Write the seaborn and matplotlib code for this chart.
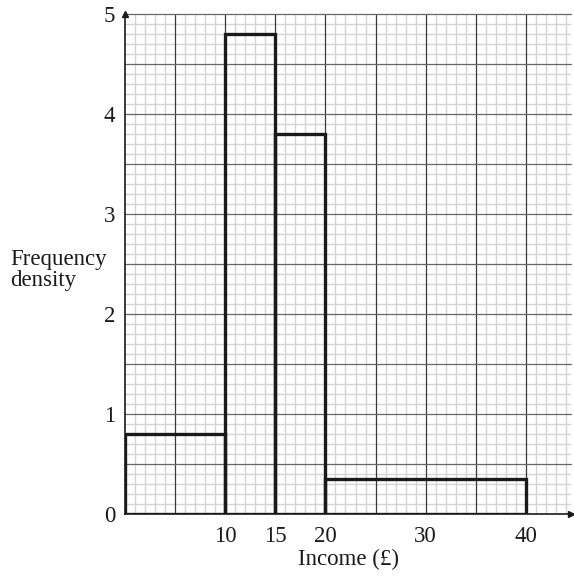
import numpy as np
import pandas as pd
import matplotlib
matplotlib.use("Agg")
import matplotlib.pyplot as plt
import seaborn as sns

# Data
bin_edges = [0, 10, 15, 20, 40]
freq_density = [0.8, 4.8, 3.8, 0.35]
x_ticks = [10, 15, 20, 30, 40]
y_ticks = [0, 1, 2, 3, 4, 5]

sns.set_style("white")
plt.rcParams["font.family"] = ["Liberation Serif", "DejaVu Serif"]

mids = [(a + b) / 2 for a, b in zip(bin_edges[:-1], bin_edges[1:])]
df = pd.DataFrame({"income": mids, "fd": freq_density})

fig = plt.figure(figsize=(5.74, 5.76), dpi=100)
ax = fig.add_axes([125 / 574, 1 - 514 / 576, (571 - 125) / 574, (514 - 14) / 576])

xmax = 44.5
ymax = 5.0
FS = 16.5
# grid
for xv in np.arange(1, 45, 1):
    if xv % 5 != 0:
        ax.axvline(xv, color="#d4d4d4", lw=1.0, zorder=0)
for yv in np.arange(0.1, 5.0, 0.1):
    if abs(round(yv * 10) % 5) != 0:
        ax.axhline(yv, color="#d4d4d4", lw=1.0, zorder=0)
for xv in np.arange(5, 45, 5):
    ax.axvline(xv, color="#3a3a3a", lw=0.9, zorder=1)
for yv in np.arange(0.5, 5.01, 0.5):
    ax.axhline(yv, color="#666666", lw=0.9, zorder=1, clip_on=False)

sns.histplot(data=df, x="income", weights="fd", bins=bin_edges, stat="count",
             element="bars", fill=False, color="#1a1a1a", linewidth=2.4,
             ax=ax, zorder=3)

ax.set_xlim(0, xmax)
ax.set_ylim(0, ymax)
for s in ["top", "right"]:
    ax.spines[s].set_visible(False)
for s in ["left", "bottom"]:
    ax.spines[s].set_color("#1a1a1a")
    ax.spines[s].set_linewidth(1.2)
    ax.spines[s].set_zorder(4)

ax.set_xticks(x_ticks)
ax.set_xticklabels([str(v) for v in x_ticks])
ax.set_yticks(y_ticks)
ax.set_yticklabels([str(v) for v in y_ticks])
ax.tick_params(axis="both", length=0, labelsize=FS, colors="#1a1a1a")
ax.tick_params(axis="x", pad=9)
ax.tick_params(axis="y", pad=7)

ax.set_xlabel("Income (£)", fontsize=FS, color="#1a1a1a", labelpad=1)
ax.set_ylabel("")
fig.text(10 / 574, 1 - 270 / 576, "Frequency\ndensity", ha="left", va="center",
         multialignment="left", fontsize=FS, color="#1a1a1a", linespacing=1.05)

# arrows
ax.plot([0], [1], marker="^", color="#1a1a1a", markersize=5, transform=ax.transAxes, clip_on=False, zorder=5)
ax.plot([1], [0], marker=">", color="#1a1a1a", markersize=5, transform=ax.transAxes, clip_on=False, zorder=5)

fig.savefig("out.png", dpi=100)
